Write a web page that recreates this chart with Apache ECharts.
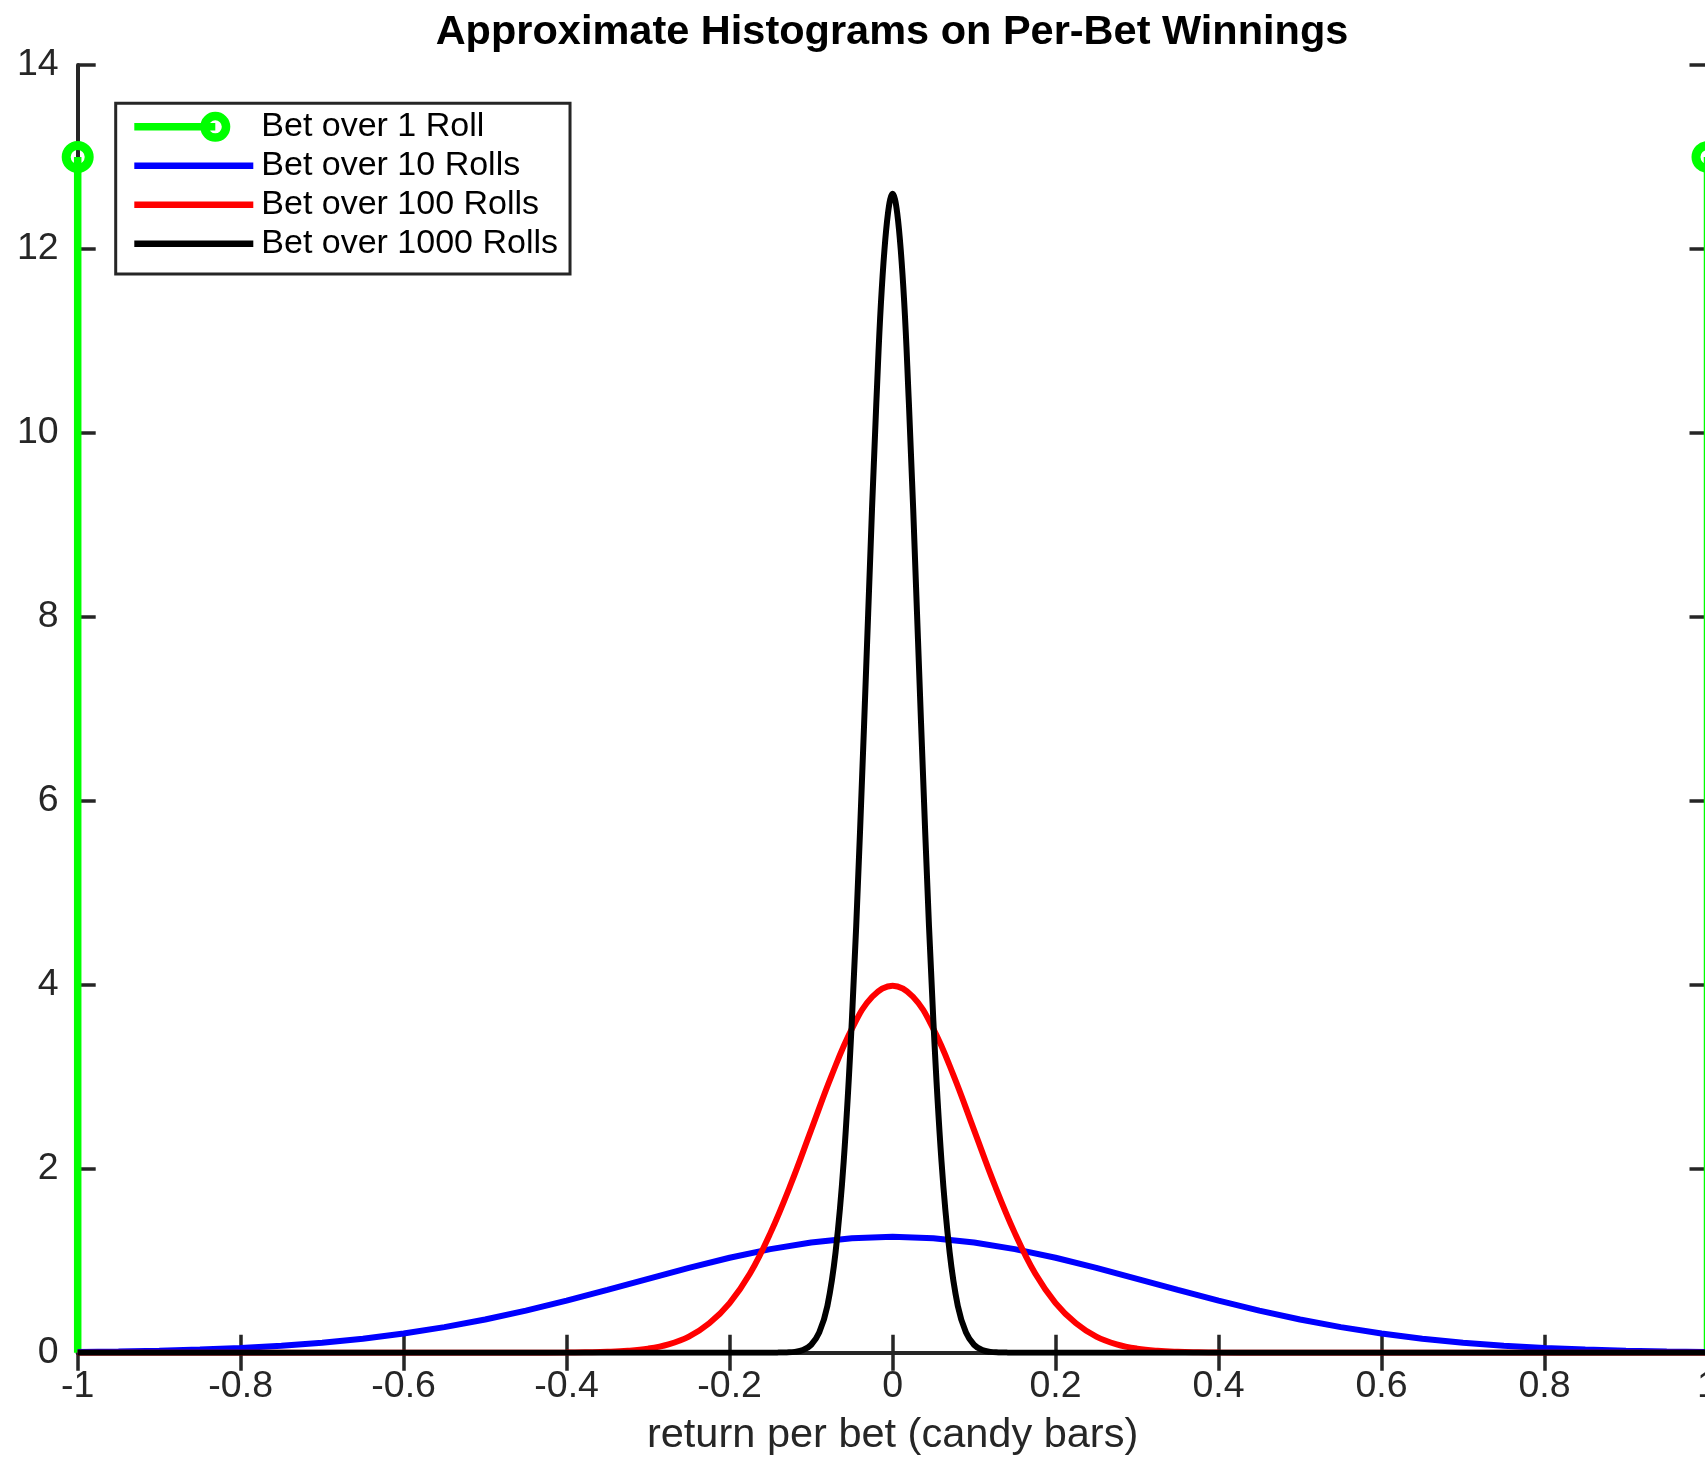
<!DOCTYPE html>
<html>
<head>
<meta charset="utf-8">
<script src="https://cdn.jsdelivr.net/npm/echarts@6/dist/echarts.min.js"></script>
<style>
  html, body { margin: 0; padding: 0; background: #fff; }
  #main { width: 1705px; height: 1457px; }
</style>
</head>
<body>
<div id="main"></div>
<script>
// series names, same order as the legend
var names = ['Bet over 1 Roll', 'Bet over 10 Rolls', 'Bet over 100 Rolls', 'Bet over 1000 Rolls']

// 1 roll: two stems at the ends
var stemX = [-1, 1]
var stemY = [13, 13]

// 10 rolls
var blueX = [-1, -0.95, -0.9, -0.85, -0.8, -0.75, -0.7, -0.65, -0.6, -0.55, -0.5, -0.45, -0.4, -0.35, -0.3, -0.25, -0.2, -0.15, -0.1, -0.05,
  0, 0.05, 0.1, 0.15, 0.2, 0.25, 0.3, 0.35, 0.4, 0.45, 0.5, 0.55, 0.6, 0.65, 0.7, 0.75, 0.8, 0.85, 0.9, 0.95, 1]
var blueY = [0.008, 0.014, 0.022, 0.034, 0.051, 0.076, 0.109, 0.152, 0.208, 0.278, 0.361, 0.458, 0.566, 0.683, 0.803, 0.922, 1.032, 1.126, 1.199, 1.244,
  1.26, 1.244, 1.199, 1.126, 1.032, 0.922, 0.803, 0.683, 0.566, 0.458, 0.361, 0.278, 0.208, 0.152, 0.109, 0.076, 0.051, 0.034, 0.022, 0.014, 0.008]

// 100 rolls
var redX = [-1, -0.6, -0.5, -0.45, -0.4, -0.375, -0.35, -0.325, -0.3, -0.275, -0.25, -0.225, -0.2, -0.175, -0.15, -0.125, -0.1, -0.075, -0.05, -0.025,
  0, 0.025, 0.05, 0.075, 0.1, 0.125, 0.15, 0.175, 0.2, 0.225, 0.25, 0.275, 0.3, 0.325, 0.35, 0.375, 0.4, 0.45, 0.5, 0.6, 1]
var redY = [0, 0, 0, 0, 0.001, 0.004, 0.009, 0.02, 0.044, 0.091, 0.175, 0.32, 0.54, 0.86, 1.3, 1.83, 2.42, 3.01, 3.52, 3.87,
  3.99, 3.87, 3.52, 3.01, 2.42, 1.83, 1.3, 0.86, 0.54, 0.32, 0.175, 0.091, 0.044, 0.02, 0.009, 0.004, 0.001, 0, 0, 0, 0]

// 1000 rolls
var blackX = [-1, -0.15, -0.14, -0.13, -0.12, -0.11, -0.1, -0.09, -0.08, -0.07, -0.06, -0.05, -0.04, -0.03, -0.02, -0.01,
  0, 0.01, 0.02, 0.03, 0.04, 0.05, 0.06, 0.07, 0.08, 0.09, 0.1, 0.11, 0.12, 0.13, 0.14, 0.15, 1]
var blackY = [0, 0, 0.001, 0.003, 0.009, 0.03, 0.085, 0.22, 0.51, 1.09, 2.08, 3.61, 5.66, 8.03, 10.32, 11.99,
  12.6, 11.99, 10.32, 8.03, 5.66, 3.61, 2.08, 1.09, 0.51, 0.22, 0.085, 0.03, 0.009, 0.003, 0.001, 0, 0]

var font = "'Liberation Sans', Arial, Helvetica, sans-serif"
var axisColor = '#262626'

function pairs(xs, ys) {
  return xs.map(function (x, i) { return [x, ys[i]] })
}

// hollow marker, like matlab 'o'
var ring = 'M16,0 A16,16 0 1,1 16,32 A16,16 0 1,1 16,0 Z M16,9 A7,7 0 1,0 16,23 A7,7 0 1,0 16,9 Z'
var greenIcon = 'path://M0,12.25 L81,12.25 L81,19.75 L0,19.75 Z M81,1 A15,15 0 1,1 81,31 A15,15 0 1,1 81,1 Z M81,9.5 A6.5,6.5 0 1,0 81,22.5 A6.5,6.5 0 1,0 81,9.5 Z M119,16'
var lineIcon = 'path://M0,0 L119,0 L119,6.5 L0,6.5 Z'

function stem(i) {
  return {
    name: names[0],
    type: 'line',
    color: '#00ff00',
    clip: false,
    symbol: 'path://' + ring,
    symbolSize: 32,
    lineStyle: { color: '#00ff00', width: 7.5 },
    itemStyle: { color: '#00ff00' },
    data: [{ value: [stemX[i], 0], symbol: 'none' }, [stemX[i], stemY[i]]]
  }
}

function curve(name, color, xs, ys, smooth) {
  return {
    name: name,
    type: 'line',
    color: color,
    symbol: 'none',
    smooth: smooth,
    lineStyle: { color: color, width: 6 },
    data: pairs(xs, ys)
  }
}

var xBase = {
  type: 'value', min: -1, max: 1, interval: 0.2,
  axisLine: { lineStyle: { color: axisColor, width: 4 } },
  axisTick: { inside: true, length: 18, lineStyle: { color: axisColor, width: 3.5 } },
  splitLine: { show: false }
}
var yBase = {
  type: 'value', min: 0, max: 14, interval: 2,
  axisLine: { show: true, onZero: false, lineStyle: { color: axisColor, width: 4 } },
  axisTick: { show: true, inside: true, length: 18, lineStyle: { color: axisColor, width: 3.5 } },
  splitLine: { show: false }
}

var myChart = echarts.init(document.getElementById('main'))

var option = {
  animation: false,
  backgroundColor: '#fff',
  title: {
    text: 'Approximate Histograms on Per-Bet Winnings',
    left: 892, top: 12, textAlign: 'center', padding: 0,
    textStyle: { fontFamily: font, fontSize: 41.5, fontWeight: 'bold', color: '#000' }
  },
  legend: {
    orient: 'vertical',
    left: 115.7, top: 103.3,
    padding: [6.5, 12, 13.2, 18.6],
    itemWidth: 119, itemHeight: 32, itemGap: 5,
    borderColor: axisColor, borderWidth: 3, backgroundColor: '#fff',
    selectedMode: false,
    itemStyle: { borderWidth: 0 },
    textStyle: { fontFamily: font, fontSize: 34, color: '#000', lineHeight: 32, padding: [0, 0, 0, 3] },
    data: [
      { name: names[0], icon: greenIcon },
      { name: names[1], icon: lineIcon },
      { name: names[2], icon: lineIcon },
      { name: names[3], icon: lineIcon }
    ]
  },
  grid: { left: 77.7, right: -2.5, top: 65, bottom: 104.3, containLabel: false, outerBoundsMode: 'none' },
  xAxis: [
    Object.assign({}, xBase, {
      position: 'bottom',
      name: 'return per bet (candy bars)', nameLocation: 'middle', nameGap: 62,
      nameTextStyle: { fontFamily: font, fontSize: 41.5, color: axisColor },
      axisLabel: { fontFamily: font, fontSize: 37.5, color: axisColor, margin: 15 }
    }),
    Object.assign({}, xBase, { position: 'top', axisLabel: { show: false } })
  ],
  yAxis: [
    Object.assign({}, yBase, {
      position: 'left',
      axisLabel: { fontFamily: font, fontSize: 37.5, color: axisColor, margin: 19 }
    }),
    Object.assign({}, yBase, { position: 'right', axisLabel: { show: false } })
  ],
  series: [
    stem(0),
    stem(1),
    curve(names[1], '#0000ff', blueX, blueY, false),
    curve(names[2], '#ff0000', redX, redY, 0.4),
    curve(names[3], '#000000', blackX, blackY, 0.4)
  ]
}
myChart.setOption(option)
</script>
</body>
</html>
